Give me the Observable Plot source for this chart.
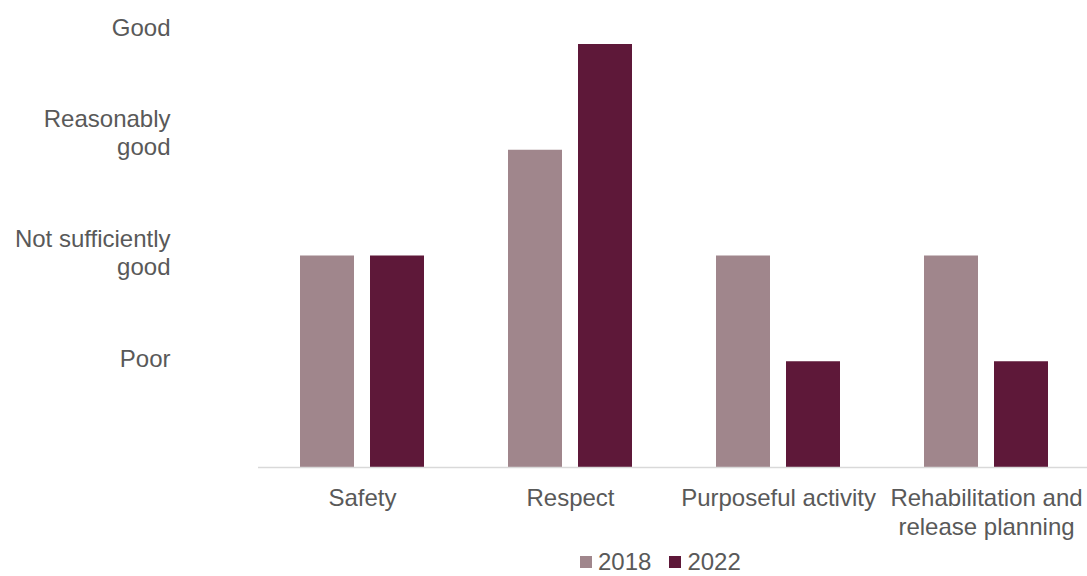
<!DOCTYPE html>
<html>
<head>
<meta charset="utf-8">
<script src="https://cdn.jsdelivr.net/npm/d3@7"></script>
<script src="https://cdn.jsdelivr.net/npm/@observablehq/plot@0.6"></script>
<style>
  html, body { margin: 0; padding: 0; background: #fff; }
  body { width: 1087px; height: 576px; overflow: hidden; font-family: "Liberation Sans", Arial, sans-serif; }
  #legend { display: flex; align-items: center; margin-left: 580px; margin-top: 4px; font-size: 24px; color: #595959; height: 28px; line-height: 28px; }
  #legend .item { display: flex; align-items: center; margin-right: 18px; }
  #legend .sw { width: 12px; height: 12px; margin-right: 6px; }
</style>
</head>
<body>
<div id="chart"></div>
<script>
const categories = ["Safety", "Respect", "Purposeful activity", "Rehabilitation and release planning"];
const categoryLabels = ["Safety", "Respect", "Purposeful activity", "Rehabilitation and\nrelease planning"];
const years = ["2018", "2022"];
const values2018 = [2, 3, 2, 2];
const values2022 = [2, 4, 1, 1];
const ratingValues = [1, 2, 3, 4];
const ratingLabels = ["Poor", "Not sufficiently\ngood", "Reasonably\ngood", "Good"];
const colors = ["#A0868C", "#5E1839"];

const data = [];
categories.forEach((c, i) => {
  data.push({category: c, year: years[0], value: values2018[i]});
  data.push({category: c, year: years[1], value: values2022[i]});
});

const textColor = "#595959";
const rating = v => ratingLabels[ratingValues.indexOf(v)];

const chart = Plot.plot({
  width: 1087,
  height: 544,
  marginLeft: 258,
  marginRight: -3,
  marginTop: 44,
  marginBottom: 77,
  style: {fontFamily: "'Liberation Sans', Arial, sans-serif", fontSize: "24px", color: textColor, background: "#fff", overflow: "visible"},
  fx: {domain: categories, padding: 0, label: null},
  x: {domain: years, paddingInner: 0.229, paddingOuter: 0.6, axis: null},
  y: {domain: [0, 4], axis: null},
  color: {domain: years, range: colors},
  marks: [
    Plot.barY(data, {fx: "category", x: "year", y: "value", fill: "year"}),
    Plot.ruleY([0], {stroke: "#D9D9D9", strokeWidth: 1.5}),
    Plot.axisFx({
      anchor: "bottom", tickSize: 0, tickPadding: 19, label: null,
      fill: textColor, fontSize: 24, lineHeight: 1.17,
      tickFormat: c => categoryLabels[categories.indexOf(c)]
    }),
    Plot.axisY(ratingValues.slice(0, 2), {
      anchor: "left", tickSize: 0, tickPadding: 88, label: null,
      fill: textColor, fontSize: 24, lineHeight: 1.17, dy: -4,
      tickFormat: rating
    }),
    Plot.axisY(ratingValues.slice(2), {
      anchor: "left", tickSize: 0, tickPadding: 88, label: null,
      fill: textColor, fontSize: 24, lineHeight: 1.17, dy: -18,
      tickFormat: rating
    })
  ]
});
document.getElementById("chart").appendChild(chart);

const legend = document.createElement("div");
legend.id = "legend";
years.forEach((y, i) => {
  const item = document.createElement("div");
  item.className = "item";
  const sw = document.createElement("span");
  sw.className = "sw";
  sw.style.background = colors[i];
  const t = document.createElement("span");
  t.textContent = y;
  item.appendChild(sw);
  item.appendChild(t);
  legend.appendChild(item);
});
document.body.appendChild(legend);
</script>
</body>
</html>
